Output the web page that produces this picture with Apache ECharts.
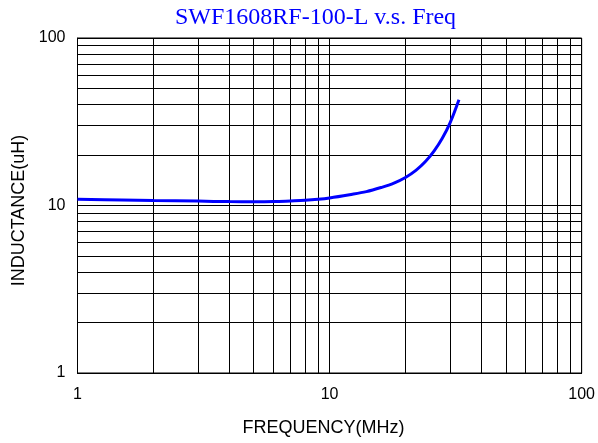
<!DOCTYPE html>
<html><head><meta charset="utf-8">
<script src="https://cdn.jsdelivr.net/npm/echarts/dist/echarts.min.js"></script>
<style>html,body{margin:0;padding:0;background:#fff}#c{width:598px;height:443px}</style>
</head><body><div id="c"></div>
<script>
const titleText = 'SWF1608RF-100-L v.s. Freq';
const xName = 'FREQUENCY(MHz)';
const yName = 'INDUCTANCE(uH)';
const freq = [1, 1.5, 2, 3, 4, 5, 6, 7, 8, 9, 10, 12, 14, 16, 18, 20, 22, 24, 26, 28, 30, 32.6];
const inductance = [10.9, 10.8, 10.72, 10.62, 10.55, 10.52, 10.55, 10.65, 10.75, 10.9, 11.1, 11.6, 12.1, 12.8, 13.6, 14.7, 16.2, 18.3, 21.2, 25.2, 30.9, 42.8];
const xMinor = [2, 3, 4, 5, 6, 7, 8, 9, 20, 30, 40, 50, 60, 70, 80, 90];
const yMinor = [2, 3, 4, 5, 6, 7, 8, 9, 20, 30, 40, 50, 60, 70, 80, 90];

const chart = echarts.init(document.getElementById('c'), null, {renderer: 'canvas'});
const gridLine = {color: '#000', width: 1, type: 'solid'};
const sans = 'Liberation Sans, Arial, sans-serif';
chart.setOption({
  animation: false,
  backgroundColor: '#fff',
  title: {
    text: titleText, left: 170, top: 1,
    textStyle: {fontFamily: 'Liberation Serif, Times New Roman, serif', fontSize: 24, fontWeight: 'normal', color: '#0000ff'}
  },
  grid: {left: 77.5, right: 14.5, top: 38, bottom: 70, show: true, borderColor: '#000', borderWidth: 1, containLabel: false},
  xAxis: {
    type: 'log', logBase: 10, min: 1, max: 100,
    axisLine: {show: true, lineStyle: {color: '#000'}},
    axisTick: {show: false},
    splitLine: {show: true, lineStyle: gridLine},
    minorTick: {show: false}, minorSplitLine: {show: false},
    axisLabel: {color: '#000', fontFamily: sans, fontSize: 16, margin: 14},
    name: xName, nameLocation: 'middle', nameGap: 46,
    nameTextStyle: {color: '#000', fontFamily: sans, fontSize: 18, padding: [0, 12, 0, 0]}
  },
  yAxis: {
    type: 'log', logBase: 10, min: 1, max: 100,
    axisLine: {show: true, lineStyle: {color: '#000'}},
    axisTick: {show: false},
    splitLine: {show: true, lineStyle: gridLine},
    minorTick: {show: false}, minorSplitLine: {show: false},
    axisLabel: {color: '#000', fontFamily: sans, fontSize: 16, margin: 12},
    name: yName, nameLocation: 'middle', nameGap: 47,
    nameTextStyle: {color: '#000', fontFamily: sans, fontSize: 18, padding: [0, 10, 0, 0]}
  },
  series: [
    {
      type: 'line', data: [], silent: true, z: 1,
      markLine: {
        silent: true, symbol: ['none', 'none'], label: {show: false}, animation: false,
        lineStyle: gridLine, emphasis: {disabled: true},
        data: xMinor.map(v => ({xAxis: v})).concat(yMinor.map(v => ({yAxis: v})))
      }
    },
    {
      type: 'line', z: 5,
      data: freq.map((f, i) => [f, inductance[i]]),
      smooth: 0.35, showSymbol: false, symbol: 'none',
      lineStyle: {color: '#0000ff', width: 3}
    }
  ]
});
</script></body></html>
